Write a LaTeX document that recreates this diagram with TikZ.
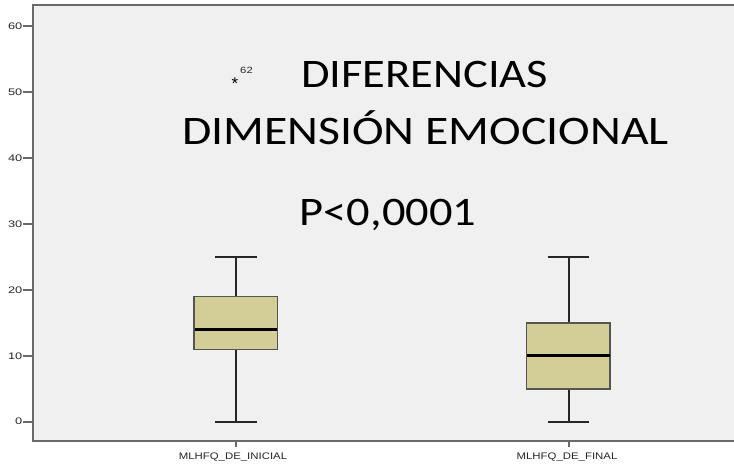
\documentclass[tikz,border=0pt]{standalone}
\usepackage{fontspec}
\setmainfont{Carlito}
\newfontfamily\axisfont{Liberation Sans}
\definecolor{plotbg}{RGB}{240,240,240}
\definecolor{boxfill}{RGB}{211,206,152}
\definecolor{boxline}{RGB}{85,85,80}
\definecolor{axisgray}{RGB}{105,105,105}
\tikzset{
  bigtext/.style={anchor=base west, inner sep=0pt, font=\fontsize{40.5}{44}\selectfont},
  ticklab/.style={anchor=east, inner sep=0pt, font=\axisfont\fontsize{9.5}{10}\selectfont, text=black!85},
  catlab/.style={anchor=center, inner sep=0pt, font=\axisfont\fontsize{9.5}{10}\selectfont, text=black!85},
  boxst/.style={draw=boxline, fill=boxfill, line width=1.4pt},
  whisk/.style={draw=black!85, line width=1.6pt},
  medst/.style={draw=black, line width=2.8pt},
  axisline/.style={draw=axisgray, line width=1.6pt}
}
\begin{document}
\begin{tikzpicture}[x=1pt,y=-1pt]
\useasboundingbox (0,0) rectangle (734,465);
\fill[white] (0,0) rectangle (734,465);
% plot area
\fill[plotbg] (33,5) rectangle (734,441);
\draw[axisline] (734,5) -- (33,5) -- (33,441) -- (734,441);
% y ticks
\foreach \v/\yy in {0/421.7,10/355.8,20/289.9,30/224.0,40/158.1,50/92.2,60/26.3}{
  \coordinate (t\v) at (33,\yy);
  \draw[axisline] (t\v) -- ++(-10,0);
  \node[ticklab] (l\v) at (22.5,\yy) {\scalebox{1.35}[1]{\v}};
}
% box 1 (INICIAL)
\coordinate (c1top) at (235.7,257.0);
\coordinate (c1bot) at (235.7,421.7);
\draw[whisk] (c1top) -- (235.7,296.5);
\draw[whisk] (235.7,349.2) -- (c1bot);
\draw[whisk] (215,257.0) -- (256.5,257.0);
\draw[whisk] (215,421.7) -- (256.5,421.7);
\node[boxst, minimum width=83.5pt, minimum height=52.7pt, inner sep=0pt] (box1) at (235.9,322.85) {};
\draw[medst] (194.6,329.4) -- (277.2,329.4);
% box 2 (FINAL)
\coordinate (c2top) at (568.7,257.0);
\coordinate (c2bot) at (568.7,421.7);
\draw[whisk] (c2top) -- (568.7,322.9);
\draw[whisk] (568.7,388.8) -- (c2bot);
\draw[whisk] (547.7,257.0) -- (589.2,257.0);
\draw[whisk] (547.7,421.7) -- (589.2,421.7);
\node[boxst, minimum width=83.3pt, minimum height=65.9pt, inner sep=0pt] (box2) at (568.4,355.85) {};
\draw[medst] (527.2,355.8) -- (609.6,355.8);
% x ticks and labels
\draw[axisline] (235.7,441) -- (235.7,447);
\draw[axisline] (568.7,441) -- (568.7,447);
\node[catlab] (x1) at (233,457.5) {\scalebox{1.2}[1]{MLHFQ\_DE\_INICIAL}};
\node[catlab] (x2) at (567,457.5) {\scalebox{1.2}[1]{MLHFQ\_DE\_FINAL}};
% outlier
\node[inner sep=0pt, font=\axisfont\fontsize{17}{18}\selectfont] (out) at (235,83.5) {*};
\node[inner sep=0pt, font=\axisfont\fontsize{9}{10}\selectfont, text=black!85] (out62) at (246.5,70) {\scalebox{1.25}[1]{62}};
% title texts
\node[bigtext] (t1) at (301,87.3) {\scalebox{1.147}[1]{DIFERENCIAS}};
\node[bigtext] (t2) at (182,145) {\scalebox{1.178}[1]{DIMENSIÓN EMOCIONAL}};
\node[bigtext] (t3) at (299.5,226) {\scalebox{1.147}[1]{P<0,0001}};
\end{tikzpicture}
\end{document}
